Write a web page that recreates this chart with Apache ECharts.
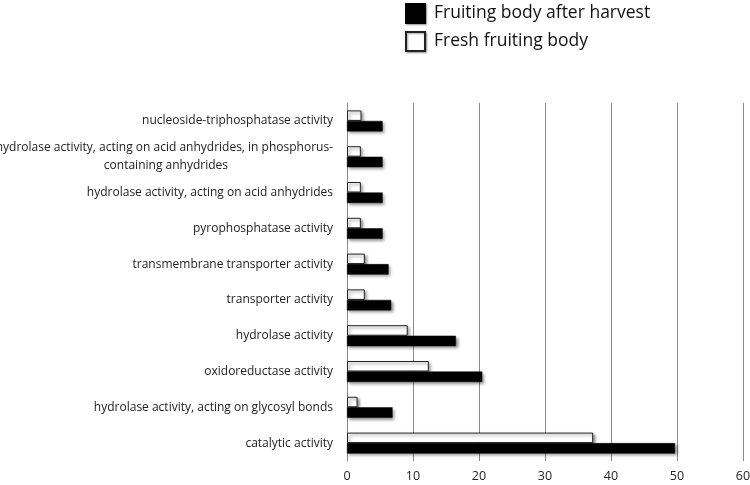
<!DOCTYPE html>
<html>
<head>
	<meta charset="utf-8">
	<title>GO terms</title>
	<script src="https://cdn.jsdelivr.net/npm/echarts@6/dist/echarts.min.js"></script>
</head>
<body style="margin:0">
	<div id="main" style="height: 485px; width: 750px;"></div>
	<script type="text/javascript">
		// bottom to top, as drawn on the category axis
		var categories = [
			'catalytic activity',
			'hydrolase activity, acting on glycosyl bonds',
			'oxidoreductase activity',
			'hydrolase activity',
			'transporter activity',
			'transmembrane transporter activity',
			'pyrophosphatase activity',
			'hydrolase activity, acting on acid anhydrides',
			'hydrolase activity, acting on acid anhydrides, in phosphorus-\ncontaining anhydrides',
			'nucleoside-triphosphatase activity'
		];
		var afterHarvest = [49.7, 6.9, 20.5, 16.5, 6.7, 6.3, 5.4, 5.4, 5.4, 5.4];
		var fresh = [37.3, 1.6, 12.4, 9.2, 2.7, 2.7, 2.1, 2.1, 2.1, 2.2];
		var xTicks = [0, 10, 20, 30, 40, 50, 60];

		var myChart = echarts.init(document.getElementById('main'));
		var shadow = {
			shadowBlur: 3,
			shadowOffsetX: 2,
			shadowOffsetY: 2,
			shadowColor: 'rgba(0,0,0,0.45)'
		};
		var option = {
			animation: false,
			textStyle: {fontFamily: 'Open Sans'},
			legend: {
				orient: 'vertical',
				left: 405,
				top: 3,
				padding: 0,
				itemWidth: 19,
				itemHeight: 19,
				itemGap: 7,
				itemStyle: {shadowBlur: 2, shadowOffsetX: 1, shadowOffsetY: 1, shadowColor: 'rgba(0,0,0,0.35)'},
				textStyle: {fontSize: 17.5, color: '#111', fontFamily: 'Open Sans', padding: [0, 0, 0, 4]},
				data: [
					{name: 'Fruiting body after harvest', icon: 'rect'},
					{name: 'Fresh fruiting body', icon: 'rect'}
				]
			},
			grid: {
				left: 347,
				right: 7,
				top: 103,
				bottom: 24,
				outerBoundsMode: 'none'
			},
			xAxis: {
				type: 'value',
				min: xTicks[0],
				max: xTicks[xTicks.length - 1],
				interval: 10,
				axisLine: {show: false},
				axisTick: {show: false},
				axisLabel: {fontSize: 12.5, color: '#222', margin: 9},
				splitLine: {lineStyle: {color: '#8a8a8a', width: 1}}
			},
			yAxis: {
				type: 'category',
				data: categories,
				axisLine: {lineStyle: {color: '#8a8a8a'}},
				axisTick: {length: 4, lineStyle: {color: '#8a8a8a'}},
				axisLabel: {
					fontSize: 12,
					color: '#222',
					margin: 14,
					lineHeight: 18,
					formatter: function (v) {
						if (v.indexOf('\n') < 0) return v;
						var parts = v.split('\n');
						return '{a|' + parts[0] + '}\n{b|' + parts[1] + '}';
					},
					rich: {
						a: {fontSize: 12, color: '#222', lineHeight: 18},
						b: {fontSize: 12, color: '#222', lineHeight: 18, padding: [0, 105, 0, 0]}
					}
				}
			},
			// in a horizontal bar group the first series sits on top
			series: [
				{
					name: 'Fresh fruiting body',
					type: 'bar',
					data: fresh,
					barWidth: 10.5,
					barGap: '0%',
					itemStyle: Object.assign({color: '#fff', borderColor: '#222', borderWidth: 1}, shadow)
				},
				{
					name: 'Fruiting body after harvest',
					type: 'bar',
					data: afterHarvest,
					barWidth: 10.5,
					barGap: '0%',
					itemStyle: Object.assign({color: '#000', borderColor: '#000', borderWidth: 0.5}, shadow)
				}
			]
		};
		myChart.setOption(option);
	</script>
</body>
</html>
